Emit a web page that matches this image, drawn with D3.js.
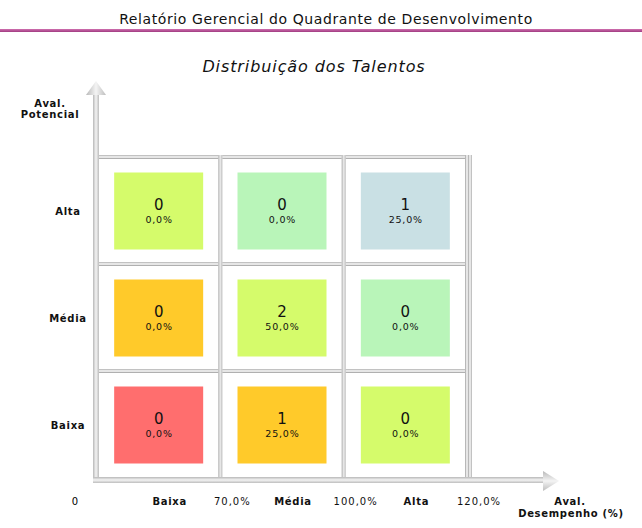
<!DOCTYPE html>
<html><head><meta charset="utf-8">
<script src="https://cdn.jsdelivr.net/npm/d3@7"></script>
<style>body{margin:0;background:#fff}svg{display:block}</style>
</head><body>
<svg id="c" width="642" height="528"></svg>
<script>
const perfCategories = ["Baixa", "Média", "Alta"];
const potCategories = ["Alta", "Média", "Baixa"];
const perfThresholds = ["70,0%", "100,0%", "120,0%"];
const countsAlta = [0, 0, 1];
const countsMedia = [0, 2, 0];
const countsBaixa = [0, 1, 0];
const pctAlta = ["0,0%", "0,0%", "25,0%"];
const pctMedia = ["0,0%", "50,0%", "0,0%"];
const pctBaixa = ["0,0%", "25,0%", "0,0%"];
const colorsAlta = ["#d5fb6b", "#b9f5b9", "#c9e0e4"];
const colorsMedia = ["#ffca2a", "#d5fb6b", "#b9f5b9"];
const colorsBaixa = ["#ff6e6e", "#ffca2a", "#d5fb6b"];

const rowsData = {"Alta": [countsAlta, pctAlta, colorsAlta], "Média": [countsMedia, pctMedia, colorsMedia], "Baixa": [countsBaixa, pctBaixa, colorsBaixa]};
const cells = [];
potCategories.forEach(r => perfCategories.forEach((c, i) => cells.push({row: r, col: c, n: rowsData[r][0][i], p: rowsData[r][1][i], color: rowsData[r][2][i]})));

const svg = d3.select("#c");
const font = "Verdana, 'DejaVu Sans', sans-serif";
const x = d3.scaleBand().domain(perfCategories).range([97, 467]);
const y = d3.scaleBand().domain(potCategories).range([157, 478]);

const defs = svg.append("defs");
const g1 = defs.append("linearGradient").attr("id", "pink").attr("x1", 0).attr("x2", 0).attr("y1", 0).attr("y2", 1);
g1.append("stop").attr("offset", "0").attr("stop-color", "#d070b0");
g1.append("stop").attr("offset", "1").attr("stop-color", "#a03a80");
const gv = defs.append("linearGradient").attr("id", "shaftV").attr("x1", 0).attr("x2", 1).attr("y1", 0).attr("y2", 0);
gv.append("stop").attr("offset", "0").attr("stop-color", "#b8b8b8");
gv.append("stop").attr("offset", "0.5").attr("stop-color", "#f4f4f4");
gv.append("stop").attr("offset", "1").attr("stop-color", "#bdbdbd");
const gh = defs.append("linearGradient").attr("id", "shaftH").attr("x1", 0).attr("x2", 0).attr("y1", 0).attr("y2", 1);
gh.append("stop").attr("offset", "0").attr("stop-color", "#b8b8b8");
gh.append("stop").attr("offset", "0.5").attr("stop-color", "#f4f4f4");
gh.append("stop").attr("offset", "1").attr("stop-color", "#bdbdbd");

// header
svg.append("text").attr("x", 326).attr("y", 24).attr("text-anchor", "middle")
  .attr("font-family", font).attr("font-size", 14).attr("letter-spacing", 0.6).attr("fill", "#111")
  .text("Relatório Gerencial do Quadrante de Desenvolvimento");
svg.append("rect").attr("x", 0).attr("y", 29).attr("width", 642).attr("height", 3).attr("fill", "url(#pink)");

// title
svg.append("text").attr("x", 314).attr("y", 72).attr("text-anchor", "middle")
  .attr("font-family", font).attr("font-size", 16).attr("letter-spacing", 0.9).attr("font-style", "italic").attr("fill", "#111")
  .text("Distribuição dos Talentos");

// grid lines (double gray lines)
function hLine(yy, x0, x1) {
  svg.append("rect").attr("x", x0).attr("y", yy - 2).attr("width", x1 - x0).attr("height", 4).attr("fill", "#e6e6e6");
  svg.append("line").attr("x1", x0).attr("x2", x1).attr("y1", yy - 1.5).attr("y2", yy - 1.5).attr("stroke", "#c2c2c2");
  svg.append("line").attr("x1", x0).attr("x2", x1).attr("y1", yy + 1.5).attr("y2", yy + 1.5).attr("stroke", "#b0b0b0");
}
function vLine(xx, y0, y1) {
  svg.append("rect").attr("x", xx - 2).attr("y", y0).attr("width", 4).attr("height", y1 - y0).attr("fill", "#e6e6e6");
  svg.append("line").attr("y1", y0).attr("y2", y1).attr("x1", xx - 1.5).attr("x2", xx - 1.5).attr("stroke", "#b8b8b8");
  svg.append("line").attr("y1", y0).attr("y2", y1).attr("x1", xx + 1.5).attr("x2", xx + 1.5).attr("stroke", "#c2c2c2");
}
const rowEdges = potCategories.map(r => y(r)).concat([y.range()[1]]);
const colEdges = perfCategories.map(c => x(c)).concat([x.range()[1]]);
rowEdges.slice(0, 3).forEach(v => hLine(v, x.range()[0], x.range()[1] + 2));
colEdges.slice(1).forEach(v => vLine(v, y.range()[0] - 2, y.range()[1]));
vLine(x.range()[1] + 3, y.range()[0] - 2, y.range()[1]);

// cells
const sqW = 89, sqH = 77;
const cg = svg.append("g").selectAll("g").data(cells).join("g")
  .attr("transform", d => `translate(${x(d.col) + x.bandwidth() / 2},${y(d.row) + y.bandwidth() / 2})`);
cg.append("rect").attr("x", -sqW / 2).attr("y", -sqH / 2 + 0.5).attr("width", sqW).attr("height", sqH).attr("fill", d => d.color);
cg.append("text").attr("y", -1).attr("text-anchor", "middle").attr("font-family", font).attr("font-size", 15).attr("fill", "#111").text(d => d.n);
cg.append("text").attr("x", 0.4).attr("y", 12).attr("text-anchor", "middle").attr("font-family", font).attr("font-size", 9.5).attr("letter-spacing", 0.8).attr("fill", "#111").text(d => d.p);

// axes
const axX0 = 96, axY = 480;
svg.append("rect").attr("x", axX0 - 3).attr("y", 92).attr("width", 6).attr("height", axY - 92 + 3).attr("fill", "url(#shaftV)");
svg.append("path").attr("d", `M${axX0},81 L${axX0 + 10},95 L${axX0 - 10},95 Z`).attr("fill", "url(#shaftV)");
svg.append("rect").attr("x", axX0 - 3).attr("y", axY - 3).attr("width", 545 - axX0 + 3).attr("height", 6).attr("fill", "url(#shaftH)");
svg.append("path").attr("d", `M559,${axY + 1} L543,${axY - 9} L543,${axY + 11} Z`).attr("fill", "url(#shaftH)");

// y labels
const lbl = (sel) => sel.attr("font-family", font).attr("font-size", 10).attr("font-weight", "bold").attr("letter-spacing", 0.7).attr("fill", "#111");
svg.append("g").selectAll("text").data(potCategories).join("text")
  .attr("x", 68).attr("y", d => y(d) + y.bandwidth() / 2 + 4).attr("text-anchor", "middle").call(lbl).text(d => d);
svg.append("text").attr("x", 50).attr("y", 107).attr("text-anchor", "middle").call(lbl).text("Aval.");
svg.append("text").attr("x", 50).attr("y", 118).attr("text-anchor", "middle").call(lbl).text("Potencial");

// x labels
svg.append("text").attr("x", 75).attr("y", 505).attr("text-anchor", "middle").attr("font-family", font).attr("font-size", 10).text("0");
svg.append("g").selectAll("text").data(perfCategories).join("text")
  .attr("x", d => x(d) + x.bandwidth() / 2 + 11).attr("y", 505).attr("text-anchor", "middle").call(lbl).text(d => d);
svg.append("g").selectAll("text").data(perfThresholds).join("text")
  .attr("x", (d, i) => colEdges[i + 1] + 12).attr("y", 505).attr("text-anchor", "middle")
  .attr("font-family", font).attr("font-size", 10).attr("letter-spacing", 1).attr("fill", "#111").text(d => d);
svg.append("text").attr("x", 570).attr("y", 505).attr("text-anchor", "middle").call(lbl).text("Aval.");
svg.append("text").attr("x", 571).attr("y", 517).attr("text-anchor", "middle").call(lbl).text("Desempenho (%)");
</script>
</body></html>
